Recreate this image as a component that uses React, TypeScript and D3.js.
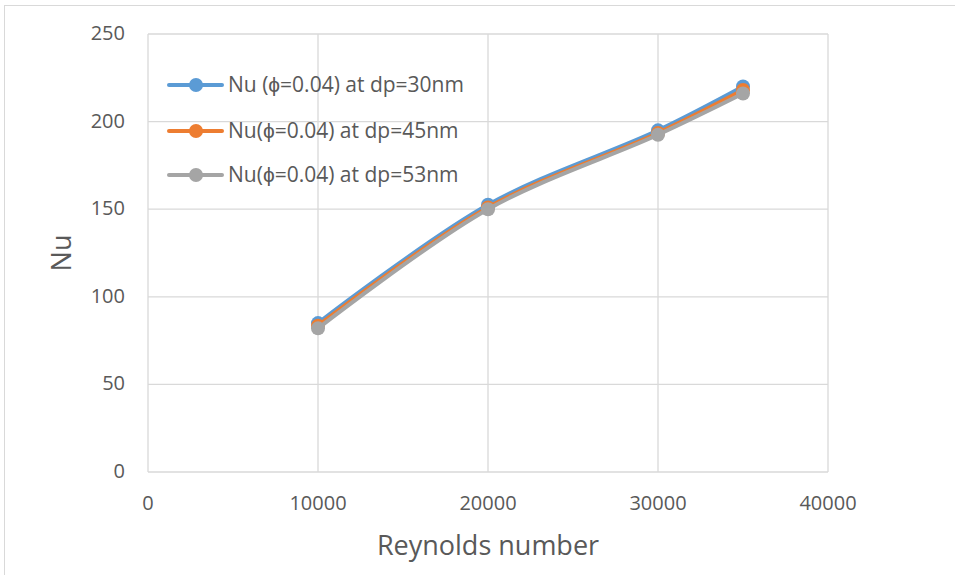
import React from "react";
import * as d3 from "d3";

const reynolds = [10000, 20000, 30000, 35000];
const nu30 = [85, 152.5, 195, 220];
const nu45 = [83.5, 151, 193.5, 218];
const nu53 = [82, 150, 192.5, 216];
const seriesNames = ["Nu (\u03d5=0.04) at dp=30nm", "Nu(\u03d5=0.04) at dp=45nm", "Nu(\u03d5=0.04) at dp=53nm"];
const colors = ["#5B9BD5", "#ED7D31", "#A5A5A5"];
const xTicks = [0, 10000, 20000, 30000, 40000];
const yTicks = [0, 50, 100, 150, 200, 250];

export default function App() {
  const W = 955, H = 575;
  const x = d3.scaleLinear().domain([0, 40000]).range([148, 828]);
  const y = d3.scaleLinear().domain([0, 250]).range([472, 34]);
  const data = [nu30, nu45, nu53];
  const line = d3.line<number>()
    .x((_, i) => x(reynolds[i]))
    .y((d) => y(d))
    .curve(d3.curveCatmullRom.alpha(0.5));
  const font = "'Open Sans', sans-serif";
  const txt = "#595959";
  const legendY = [85, 131, 175];
  return (
    <svg width={W} height={H} style={{ position: "absolute", left: 0, top: 0, display: "block" }} fontFamily={font}>
      <rect x={0} y={0} width={W} height={H} fill="#fff" />
      <rect x={4.5} y={5.5} width={W} height={H} fill="none" stroke="#D9D9D9" />
      {yTicks.map((t) => (
        <line key={"gy" + t} x1={148} x2={828} y1={y(t)} y2={y(t)} stroke="#D9D9D9" strokeWidth={1.3} />
      ))}
      {xTicks.map((t) => (
        <line key={"gx" + t} x1={x(t)} x2={x(t)} y1={34} y2={472} stroke="#D9D9D9" strokeWidth={1.3} />
      ))}
      {yTicks.map((t) => (
        <text key={"ty" + t} x={125} y={y(t) + 6} textAnchor="end" fontSize={20} fill={txt}>{t}</text>
      ))}
      {xTicks.map((t) => (
        <text key={"tx" + t} x={x(t)} y={510} textAnchor="middle" fontSize={20} fill={txt}>{t}</text>
      ))}
      <text x={488} y={555} textAnchor="middle" fontSize={27} fill={txt}>Reynolds number</text>
      <text transform="translate(71,253) rotate(-90)" textAnchor="middle" fontSize={27} fill={txt}>Nu</text>
      {data.map((s, k) => (
        <g key={"s" + k}>
          <path d={line(s) || ""} fill="none" stroke={colors[k]} strokeWidth={4} strokeLinecap="round" />
          {s.map((v, i) => (
            <circle key={i} cx={x(reynolds[i])} cy={y(v)} r={7} fill={colors[k]} />
          ))}
        </g>
      ))}
      {seriesNames.map((n, k) => (
        <g key={"l" + k}>
          <line x1={169} x2={222} y1={legendY[k]} y2={legendY[k]} stroke={colors[k]} strokeWidth={4} strokeLinecap="round" />
          <circle cx={196} cy={legendY[k]} r={7} fill={colors[k]} />
          <text x={228} y={legendY[k] + 7} fontSize={21} fill={txt}>{n}</text>
        </g>
      ))}
    </svg>
  );
}
